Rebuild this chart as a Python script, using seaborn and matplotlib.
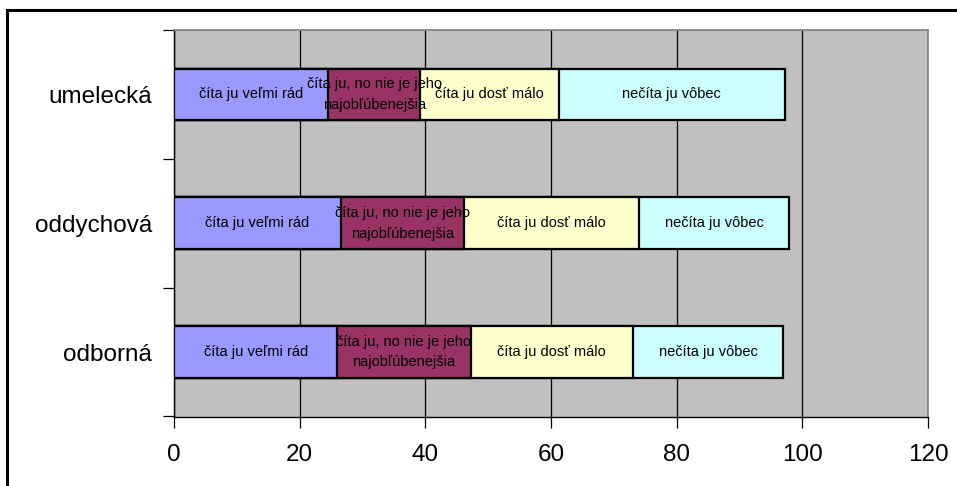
import numpy as np
import pandas as pd
import matplotlib
matplotlib.use("Agg")
import matplotlib.pyplot as plt
import seaborn as sns
from matplotlib.patches import Rectangle
from matplotlib.ticker import FixedLocator

categories = ["umelecká", "oddychová", "odborná"]
series_names = ["číta ju veľmi rád",
                "číta ju, no nie je jeho\nnajobľúbenejšia",
                "číta ju dosť málo",
                "nečíta ju vôbec"]
s1 = [24.5, 26.6, 26.0]
s2 = [14.7, 19.6, 21.2]
s3 = [22.0, 27.8, 25.8]
s4 = [36.0, 23.9, 24.0]
colors = ["#9999FF", "#993366", "#FFFFCC", "#CCFFFF"]
xticks = [0, 20, 40, 60, 80, 100, 120]

series = [s1, s2, s3, s4]
cum = np.cumsum(np.array(series), axis=0)

sns.set_theme(style="white")
plt.rcParams['font.family'] = ['Liberation Sans', 'DejaVu Sans']

fig = plt.figure(figsize=(9.57, 4.86), dpi=100)
ax = fig.add_axes([174/957, 1-416.5/486, (928-174)/957, (416.5-30)/486])
ax.set_facecolor("#C0C0C0")

# draw cumulative totals from widest to narrowest
for i in reversed(range(4)):
    df = pd.DataFrame({"cat": categories, "val": cum[i]})
    sns.barplot(data=df, x="val", y="cat", orient="h", ax=ax, color=colors[i],
                width=0.4, edgecolor="black", linewidth=1.6, saturation=1, zorder=3)

# segment labels
for i in range(4):
    start = cum[i] - np.array(series[i])
    for j, cat in enumerate(categories):
        xc = start[j] + series[i][j] / 2
        ax.text(xc, j, series_names[i], ha="center", va="center", fontsize=10.5,
                color="black", linespacing=1.6, zorder=5)

ax.set_xlim(0, 120)
ax.set_ylim(2.5, -0.5)
ax.xaxis.set_major_locator(FixedLocator(xticks))
ax.grid(axis="x", color="black", linewidth=0.9, zorder=1)
ax.grid(axis="y", visible=False)
ax.set_axisbelow(True)
ax.set_xlabel("")
ax.set_ylabel("")

ax.yaxis.set_minor_locator(FixedLocator([-0.5, 0.5, 1.5, 2.5]))
ax.tick_params(axis="y", which="major", length=0, pad=16, labelsize=17.5, colors="black")
ax.tick_params(axis="y", which="minor", length=8, width=0.9, color="black", left=True)
ax.tick_params(axis="x", which="major", length=8, width=0.9, color="black", bottom=True,
               pad=12, labelsize=17.5, labelcolor="black")

for side in ["left", "bottom"]:
    ax.spines[side].set_color("black")
    ax.spines[side].set_linewidth(1.0)
for side in ["top", "right"]:
    ax.spines[side].set_color("#808080")
    ax.spines[side].set_linewidth(1.2)

# outer chart border
fig.patches.append(Rectangle((7/957, -0.1), 1.2, 1.1 - 10/486,
                             transform=fig.transFigure, fill=False,
                             edgecolor="black", linewidth=2.2))

fig.savefig("out.png", dpi=100)
